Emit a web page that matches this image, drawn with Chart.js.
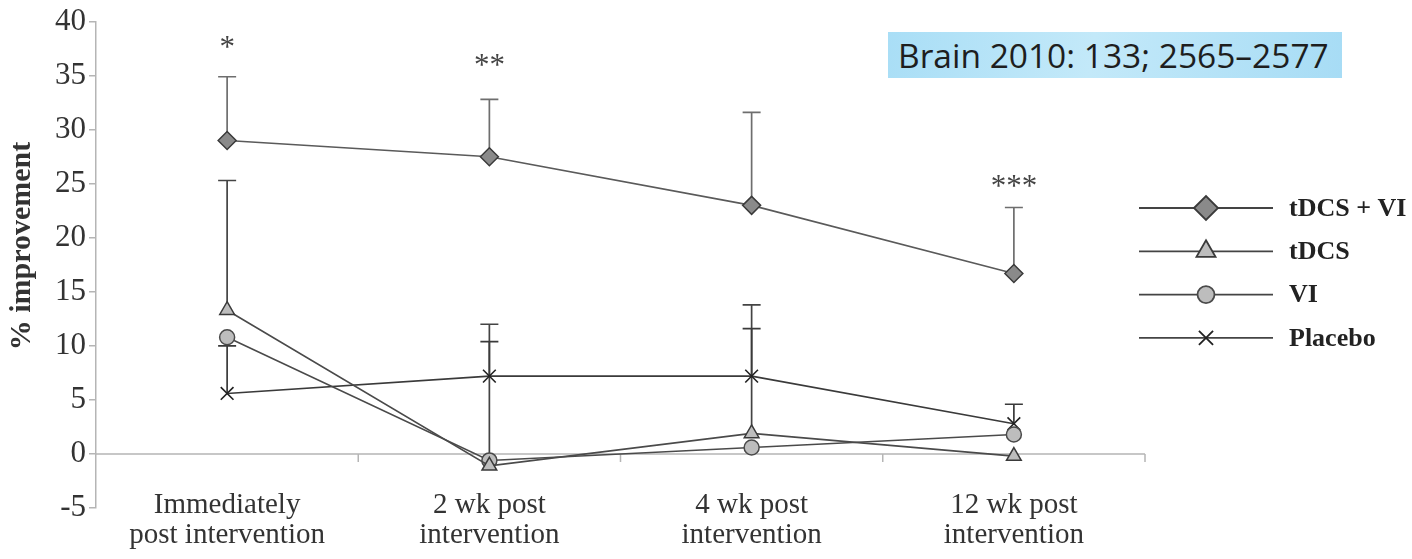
<!DOCTYPE html>
<html>
<head>
<meta charset="utf-8">
<script src="https://cdn.jsdelivr.net/npm/chart.js@4.4.1/dist/chart.umd.min.js"></script>
<style>
  body { margin: 0; background: #fff; }
  #wrap { position: relative; width: 1412px; height: 559px; }
  #ref {
    position: absolute; left: 888px; top: 32px; width: 454px; height: 46px;
    background: linear-gradient(100deg, #a9def6 0%, #c3e9f9 45%, #a7dcf5 100%);
    font-family: 'Open Sans', sans-serif; font-size: 33.5px; line-height: 46px;
    color: #1e1e1e; padding-left: 10px; box-sizing: border-box; white-space: nowrap;
  }
</style>
</head>
<body>
<div id="wrap">
  <canvas id="chart" width="1412" height="559"></canvas>
  <div id="ref">Brain 2010: 133; 2565–2577</div>
</div>
<script>
// data
const categories = [
  ['Immediately', 'post intervention'],
  ['2 wk post', 'intervention'],
  ['4 wk post', 'intervention'],
  ['12 wk post', 'intervention']
];
const tdcsVi = [29.0, 27.5, 23.0, 16.7];
const tdcsViUpper = [34.9, 32.8, 31.6, 22.8];
const tdcs = [13.3, -1.1, 1.9, -0.2];
const tdcsUpper = [25.3, 12.0, 13.8, null];
const vi = [10.8, -0.6, 0.6, 1.8];
const viUpper = [null, null, null, null];
const placebo = [5.6, 7.2, 7.2, 2.8];
const placeboUpper = [10.0, 10.4, 11.6, 4.6];
const sigMarks = ['*', '**', '', '***'];
const sigY = [38.0, 36.4, null, 25.2];
const yMin = -5, yMax = 40, yStep = 5;

const serif = "'Liberation Serif', 'Times New Roman', serif";
const axisGrey = '#b5b5b5';
const textCol = '#333';

function point(ctx, style, r, x, y) {
  if (Chart.helpers && Chart.helpers.drawPoint) {
    Chart.helpers.drawPoint(ctx, { pointStyle: style, radius: r, rotation: 0, borderWidth: ctx.lineWidth }, x, y);
  }
}

// error bars (upper only), zero line with category ticks, labels, legend
const extras = {
  id: 'extras',
  beforeDatasetsDraw(chart) {
    const ctx = chart.ctx, xs = chart.scales.x, ys = chart.scales.y, area = chart.chartArea;
    const y0 = ys.getPixelForValue(0);
    ctx.save();
    ctx.strokeStyle = axisGrey;
    ctx.lineWidth = 1.5;
    ctx.beginPath();
    ctx.moveTo(area.left, y0);
    ctx.lineTo(area.right, y0);
    const w = (area.right - area.left) / categories.length;
    for (let i = 1; i <= categories.length; i++) {
      const bx = area.left + i * w;
      ctx.moveTo(bx, y0);
      ctx.lineTo(bx, y0 + 8);
    }
    ctx.stroke();

    chart.data.datasets.forEach(ds => {
      ds.upper.forEach((u, i) => {
        if (u == null) return;
        const px = xs.getPixelForValue(i);
        const p0 = ys.getPixelForValue(ds.data[i]);
        const p1 = ys.getPixelForValue(u);
        ctx.strokeStyle = ds.errColor;
        ctx.lineWidth = 1.7;
        ctx.beginPath();
        ctx.moveTo(px, p0); ctx.lineTo(px, p1);
        ctx.moveTo(px - 9, p1); ctx.lineTo(px + 9, p1);
        ctx.stroke();
      });
    });
    ctx.restore();
  },
  afterDraw(chart) {
    const ctx = chart.ctx, xs = chart.scales.x, ys = chart.scales.y;
    ctx.save();
    // category labels (drawn here so they can sit above the -5 line)
    ctx.fillStyle = textCol;
    ctx.font = '29px ' + serif;
    ctx.textAlign = 'center';
    ctx.textBaseline = 'alphabetic';
    categories.forEach((lines, i) => {
      const cx = xs.getPixelForValue(i);
      lines.forEach((t, k) => ctx.fillText(t, cx, 513 + k * 30));
    });

    // significance stars
    ctx.fillStyle = '#444';
    ctx.font = '31px ' + serif;
    sigMarks.forEach((m, i) => {
      if (!m) return;
      ctx.fillText(m, xs.getPixelForValue(i), ys.getPixelForValue(sigY[i]) + 14);
    });

    // y axis title
    ctx.save();
    ctx.translate(22, 246);
    ctx.rotate(-Math.PI / 2);
    ctx.font = 'bold 30px ' + serif;
    ctx.fillStyle = textCol;
    ctx.textBaseline = 'middle';
    ctx.fillText('% improvement', 0, 0);
    ctx.restore();

    // legend
    const lx0 = 1139, lx1 = 1273, mx = 1206, tx = 1289;
    chart.data.datasets.forEach((ds, i) => {
      const ly = 208 + i * 43.3;
      ctx.strokeStyle = '#444';
      ctx.lineWidth = 1.8;
      ctx.beginPath();
      ctx.moveTo(lx0, ly); ctx.lineTo(lx1, ly);
      ctx.stroke();
      ctx.fillStyle = ds.pointBackgroundColor;
      ctx.strokeStyle = ds.pointBorderColor;
      ctx.lineWidth = 1.8;
      point(ctx, ds.pointStyle, ds.legendRadius, mx, ly);
      ctx.fillStyle = '#222';
      ctx.font = 'bold 26px ' + serif;
      ctx.textAlign = 'left';
      ctx.textBaseline = 'middle';
      ctx.fillText(ds.label, tx, ly + 1);
    });
    ctx.restore();
  }
};

new Chart(document.getElementById('chart'), {
  type: 'line',
  data: {
    labels: categories,
    datasets: [
      {
        label: 'tDCS + VI', data: tdcsVi, upper: tdcsViUpper, errColor: '#6e6e6e',
        borderColor: '#5a5a5a', borderWidth: 1.6,
        pointStyle: 'rectRot', pointRadius: 9, legendRadius: 12,
        pointBackgroundColor: '#8a8a8a', pointBorderColor: '#3a3a3a', pointBorderWidth: 1.5
      },
      {
        label: 'tDCS', data: tdcs, upper: tdcsUpper, errColor: '#444',
        borderColor: '#4a4a4a', borderWidth: 1.6,
        pointStyle: 'triangle', pointRadius: 8.5, legendRadius: 11,
        pointBackgroundColor: '#bdbdbd', pointBorderColor: '#3a3a3a', pointBorderWidth: 1.5
      },
      {
        label: 'VI', data: vi, upper: viUpper, errColor: '#444',
        borderColor: '#4a4a4a', borderWidth: 1.6,
        pointStyle: 'circle', pointRadius: 7.5, legendRadius: 8.5,
        pointBackgroundColor: '#bdbdbd', pointBorderColor: '#4a4a4a', pointBorderWidth: 1.5
      },
      {
        label: 'Placebo', data: placebo, upper: placeboUpper, errColor: '#3a3a3a',
        borderColor: '#3a3a3a', borderWidth: 1.6,
        pointStyle: 'crossRot', pointRadius: 9, legendRadius: 10,
        pointBackgroundColor: '#222', pointBorderColor: '#222', pointBorderWidth: 1.6
      }
    ]
  },
  options: {
    responsive: false,
    animation: false,
    layout: { padding: { top: 21, right: 267, left: 0, bottom: 0 } },
    plugins: { legend: { display: false }, tooltip: { enabled: false } },
    elements: { line: { tension: 0, fill: false } },
    scales: {
      x: {
        type: 'category',
        offset: true,
        grid: { display: false, drawTicks: false },
        border: { display: false },
        afterFit(scale) { scale.height = 51; },
        ticks: { display: false }
      },
      y: {
        min: yMin, max: yMax,
        afterFit(scale) { scale.width = 96; },
        border: { color: axisGrey, width: 1.5 },
        grid: { drawOnChartArea: false, color: axisGrey, tickLength: 7, lineWidth: 1.5 },
        ticks: {
          stepSize: yStep, padding: 3, color: textCol,
          font: { family: serif, size: 31 }
        }
      }
    }
  },
  plugins: [extras]
});
</script>
</body>
</html>
